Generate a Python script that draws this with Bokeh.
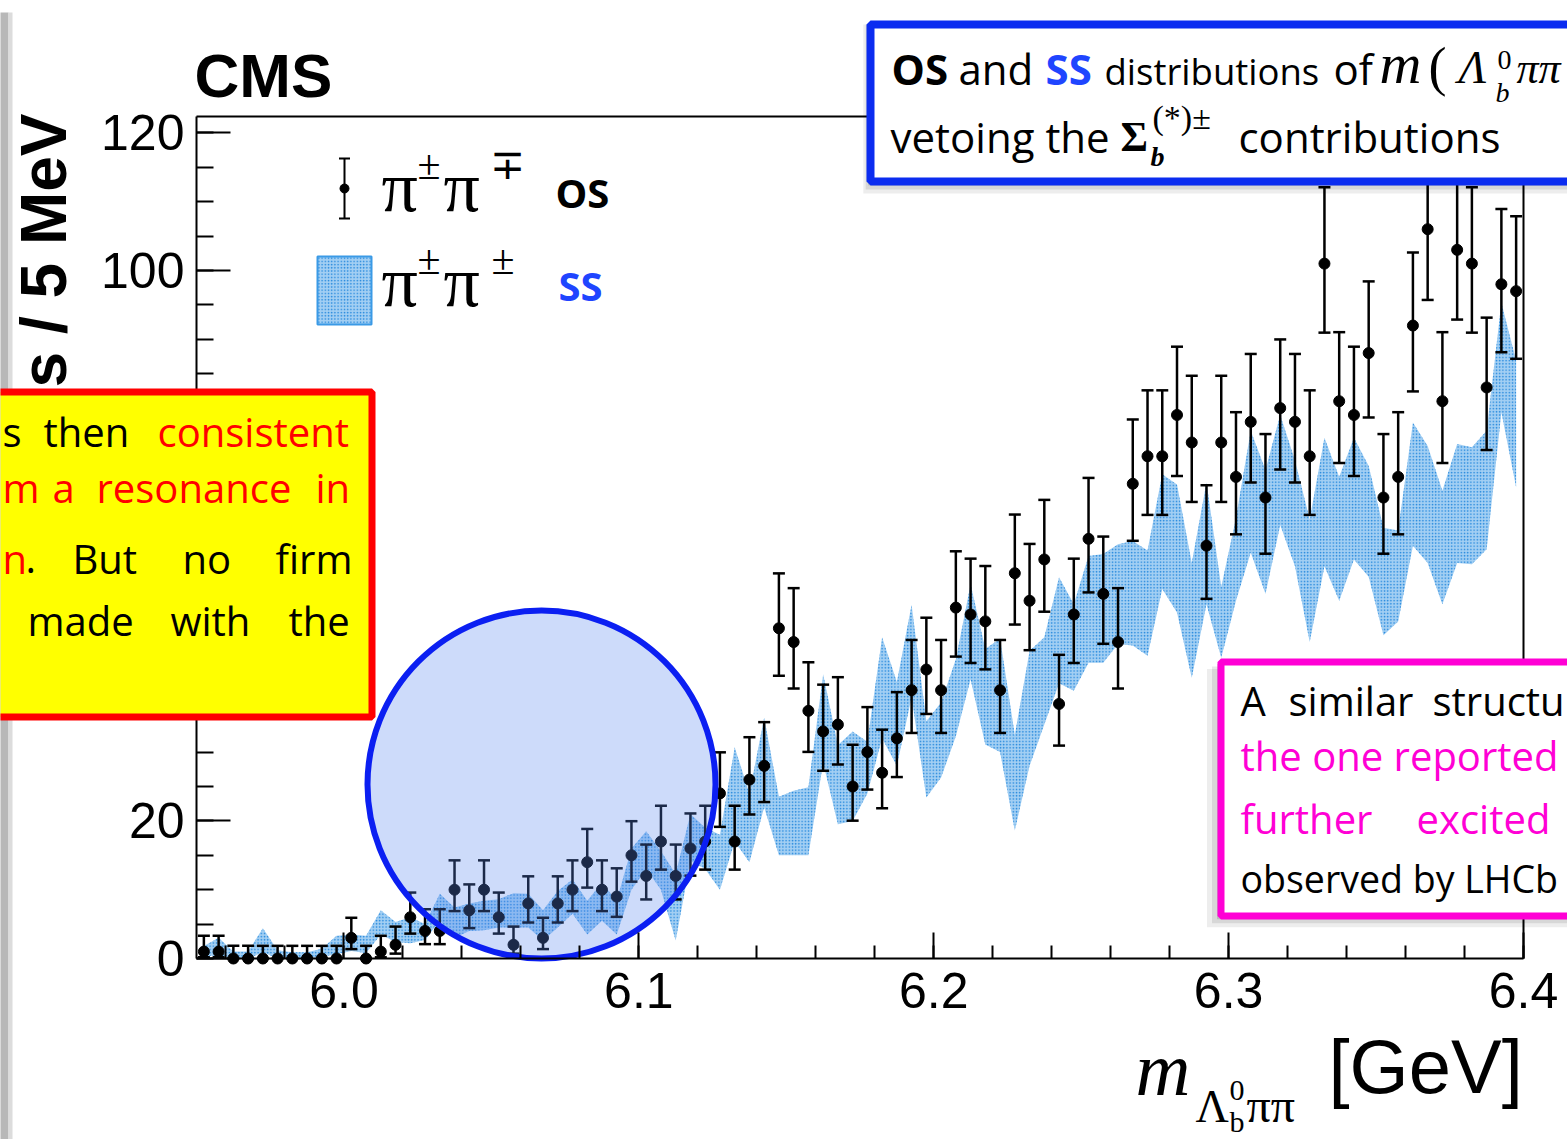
import math
import numpy as np
from bokeh.plotting import figure
from bokeh.models import (Label, BoxAnnotation, SingleIntervalTicker, PrintfTickFormatter,
                          Range1d, LinearAxis)
from bokeh.embed import file_html
from bokeh.resources import INLINE

# ---------------- data ----------------
bin_first_center = 5.9525   # GeV
bin_width = 0.005           # GeV (5 MeV bins)
n_bins = 90

# OS (pi+ pi-) candidates per 5 MeV
os_counts = [1, 1, 0, 0, 0, 0, 0, 0, 0, 0,
             3, 0, 1, 2, 6, 4, 4, 10, 7, 10,
             6, 2, 8, 3, 8, 10, 14, 10, 9, 15,
             12, 17, 12, 16, 17, 24, 17, 26, 28, 48,
             46, 36, 33, 34, 25, 30, 27, 32, 39, 42,
             39, 51, 50, 49, 39, 56, 52, 58, 37, 50,
             61, 53, 46, 69, 73, 73, 79, 75, 60, 75,
             70, 78, 67, 80, 78, 73, 101, 81, 79, 88,
             67, 70, 92, 106, 81, 103, 101, 83, 98, 97]

# SS (pi+- pi+-) normalised band: lower / upper edge per bin
ss_low = [0.3, 0.5, 0.0, 0.0, 0.9, 0.0, 0.0, 0.0, 0.3, 0.6,
          1.1, 0.8, 3.5, 2.4, 2.2, 2.7, 5.5, 3.0, 4.0, 4.1,
          4.5, 4.5, 4.5, 2.6, 4.5, 6.5, 3.5, 5.5, 3.5, 10.0,
          13.0, 10.0, 2.6, 14.2, 13.0, 10.0, 17.0, 14.0, 22.0, 15.0,
          15.0, 15.0, 28.5, 19.5, 20.0, 24.0, 32.0, 28.0, 38.0, 23.4,
          26.3, 32.3, 40.6, 31.1, 30.0, 18.6, 28.0, 34.0, 40.0, 38.9,
          43.0, 43.0, 45.7, 45.5, 44.0, 53.7, 50.3, 40.8, 51.5, 43.7,
          52.0, 59.0, 53.0, 63.0, 57.0, 46.0, 57.0, 52.0, 58.0, 55.5,
          47.0, 49.0, 60.0, 57.5, 51.5, 57.5, 57.3, 59.5, 79.4, 68.5]
ss_high = [1.8, 3.0, 1.0, 1.0, 4.4, 1.2, 0.9, 0.9, 1.4, 3.3,
           3.5, 3.3, 7.0, 5.3, 6.0, 5.0, 9.4, 7.4, 8.0, 8.4,
           8.6, 9.5, 9.4, 7.0, 9.8, 11.5, 8.4, 11.0, 8.4, 16.0,
           18.5, 15.6, 12.3, 21.0, 19.0, 18.0, 30.7, 24.0, 35.0, 23.5,
           24.4, 24.9, 41.3, 31.0, 33.0, 31.5, 46.7, 40.2, 51.4, 34.5,
           37.2, 43.5, 54.4, 45.0, 46.5, 32.5, 44.7, 46.7, 55.4, 51.5,
           58.5, 58.8, 60.2, 60.7, 59.3, 70.4, 68.9, 57.5, 69.2, 54.0,
           64.0, 76.7, 71.0, 79.0, 72.4, 63.8, 75.7, 70.0, 75.7, 71.6,
           62.6, 62.2, 77.9, 74.5, 68.0, 74.8, 74.3, 76.7, 95.3, 86.9]

x_tick_step = 0.1
y_tick_step = 20

mass = bin_first_center + bin_width * np.arange(n_bins)


# Poisson (Garwood) 68% intervals for the OS counts
def _cdf(k, mu):
    if k < 0:
        return 0.0
    s = 0.0
    for i in range(k + 1):
        s += math.exp(-mu + i * math.log(mu) - math.lgamma(i + 1))
    return s


def garwood(n):
    a = 0.3173
    lo_b, hi_b = max(n, 1e-9), n + 10 * math.sqrt(n + 1) + 10
    for _ in range(80):
        mid = 0.5 * (lo_b + hi_b)
        if _cdf(n, mid) > a / 2:
            lo_b = mid
        else:
            hi_b = mid
    up = lo_b
    if n == 0:
        return 0.0, up
    lo_b, hi_b = 1e-9, float(n)
    for _ in range(80):
        mid = 0.5 * (lo_b + hi_b)
        if _cdf(n - 1, mid) > 1 - a / 2:
            lo_b = mid
        else:
            hi_b = mid
    return lo_b, up


err = [garwood(n) for n in os_counts]
err_lo = [e[0] for e in err]
err_hi = [e[1] for e in err]

# ---------------- layout ----------------
W, H = 1567, 1139
FL, FR, FT, FB = 196, 1523, 116, 958      # pixel edges of the data frame
X0, X1 = 5.95, 6.40
Y0, Y1 = 0.0, (FB - FT) / 6.88


def DX(px):
    return X0 + (px - FL) * (X1 - X0) / (FR - FL)


def DY(py):
    return Y0 + (FB - py) * (Y1 - Y0) / (FB - FT)


p = figure(width=W, height=H, x_range=Range1d(DX(0), DX(W)), y_range=Range1d(DY(H), DY(0)),
           min_border=0, x_axis_location=None, y_axis_location=None, title=None,
           output_backend="svg", toolbar_location=None)
p.xgrid.visible = False
p.ygrid.visible = False
p.outline_line_color = None
p.background_fill_color = "white"
p.border_fill_color = "white"

xaxis = LinearAxis(fixed_location=Y0, bounds=(X0, X1),
                   ticker=SingleIntervalTicker(interval=x_tick_step, num_minor_ticks=5),
                   formatter=PrintfTickFormatter(format="%.1f"))
yaxis = LinearAxis(fixed_location=X0, bounds=(Y0, Y1),
                   ticker=SingleIntervalTicker(interval=y_tick_step, num_minor_ticks=4),
                   formatter=PrintfTickFormatter(format="%d"))
for ax in (xaxis, yaxis):
    ax.axis_line_width = 2
    ax.axis_line_color = "black"
    ax.major_tick_line_width = 2
    ax.minor_tick_line_width = 2
    ax.major_tick_out = 0
    ax.minor_tick_out = 0
    ax.major_label_text_font = "Liberation Sans"
    ax.major_label_text_font_size = "50px"
    ax.major_label_text_color = "black"
xaxis.major_tick_in = 26
xaxis.minor_tick_in = 13
xaxis.major_label_standoff = 14
yaxis.major_tick_in = 34
yaxis.minor_tick_in = 17
yaxis.major_label_standoff = 12
p.add_layout(xaxis, "below")
p.add_layout(yaxis, "left")

BAND_FILL = "#a3cff3"
BAND_DOT = "#2286dc"

# SS band
p.varea(x=mass, y1=ss_low, y2=ss_high, fill_color=BAND_FILL, fill_alpha=1.0,
        hatch_pattern="dot", hatch_color=BAND_DOT, hatch_scale=3.2, hatch_weight=2.4)

# frame top / right edges
p.segment(x0=[X0, X1], y0=[Y1, Y0], x1=[X1, X1], y1=[Y1, Y1], line_color="black", line_width=2)

# OS data points
p.segment(x0=mass, y0=err_lo, x1=mass, y1=err_hi, line_color="black", line_width=2.5)
p.scatter(x=mass, y=err_hi, marker="dash", size=12, line_color="black", line_width=2.5)
p.scatter(x=mass, y=err_lo, marker="dash", size=12, line_color="black", line_width=2.5)
p.scatter(x=mass, y=os_counts, marker="circle", size=11, fill_color="black", line_color="black")

# legend (OS sample marker)
p.segment(x0=[DX(344)], y0=[DY(218)], x1=[DX(344)], y1=[DY(158)], line_color="black", line_width=2)
p.scatter(x=[DX(344), DX(344)], y=[DY(218), DY(158)], marker="dash", size=11,
          line_color="black", line_width=2)
p.scatter(x=[DX(344)], y=[DY(188)], marker="circle", size=9, color="black")

# highlight circle
p.scatter(x=[DX(541)], y=[DY(784)], marker="circle", size=348, fill_color="#5a87ee",
          fill_alpha=0.3, line_color="#0b1ff2", line_width=6)

SHIFT = 0.37   # rendered baseline sits ~0.37 em below the anchor


def lab(px, py, text, size, color="black", font="Open Sans", style="normal",
        align="left", angle=0.0, raw=False):
    yy = py if raw else py - SHIFT * size
    p.add_layout(Label(x=DX(px), y=DY(yy), text=text, text_font=font,
                       text_font_size=f"{size}px", text_color=color,
                       text_font_style=style, text_align=align,
                       text_baseline="alphabetic", angle=angle))


def box(l, t, r, b, fill, line=None, lw=0, alpha=1.0, **kw):
    p.add_layout(BoxAnnotation(left=DX(l), right=DX(r), top=DY(t), bottom=DY(b),
                               fill_color=fill, fill_alpha=alpha,
                               line_color=line, line_width=lw,
                               line_alpha=1.0 if line else 0.0, **kw))


# legend SS sample box
box(317, 256, 371, 324, BAND_FILL, line="#3a9ae6", lw=2,
    hatch_pattern="dot", hatch_color=BAND_DOT, hatch_scale=3.2, hatch_weight=2.4)

# legend texts
SERIF = "Liberation Serif"
lab(381, 213, "π", 72, font=SERIF)
lab(417, 180, "±", 42, font=SERIF)
lab(443, 213, "π", 72, font=SERIF)
lab(489, 180, "∓", 42, font=SERIF)
lab(555, 207, "OS", 40, style="bold")
lab(381, 308, "π", 72, font=SERIF)
lab(417, 275, "±", 42, font=SERIF)
lab(443, 308, "π", 72, font=SERIF)
lab(491, 275, "±", 42, font=SERIF)
lab(558, 300, "SS", 40, color="#1f45ff", style="bold")

# CMS
lab(194, 98, "CMS", 62, font="Liberation Sans", style="bold")

# x-axis title
lab(1135, 1097, "m", 76, font=SERIF, style="italic")
lab(1195, 1123, "Λ", 46, font=SERIF)
lab(1229, 1101, "0", 30, font=SERIF)
lab(1229, 1132, "b", 30, font=SERIF)
lab(1246, 1123, "ππ", 48, font=SERIF)
lab(1328, 1094, "[GeV]", 76, font="Liberation Sans")

# y-axis title (rotated; anchor is the glyph centre line)
lab(43, 113, "Candidates / 5 MeV", 64, font="Liberation Sans", style="bold",
    align="right", angle=math.pi / 2, raw=True)

# slide edge shadow on the left
box(-10, 12, 8, 1160, "#b8b8b8")
box(8, 12, 12, 1160, "#dcdcdc")

# ---- yellow / red box ----
box(-20, 391.5, 371.5, 716.5, "#ffff00", line="#ff0000", lw=7)
RED = "#ff0000"
lab(2, 446, "s", 40)
lab(43, 446, "then", 40)
lab(157, 446, "consistent", 40, color=RED)
lab(2, 502, "m", 40, color=RED)
lab(52, 502, "a", 40, color=RED)
lab(96, 502, "resonance", 40, color=RED)
lab(315, 502, "in", 40, color=RED)
lab(2, 573, "n", 40, color=RED)
lab(25, 573, ".", 40)
lab(72, 573, "But", 40)
lab(182, 573, "no", 40)
lab(275, 573, "firm", 40)
lab(27, 635, "made", 40)
lab(170, 635, "with", 40)
lab(288, 635, "the", 40)

# ---- blue box (top right) ----
for off, a in ((12, 0.07), (8, 0.09), (4, 0.12)):
    box(870 - off * 0.6, 24, 1620, 181 + off, "#000000", alpha=a)
box(870, 24, 1620, 181, "white", line="#0b2cf0", lw=8)
lab(891, 84, "OS", 42, style="bold")
lab(958, 84, "and", 42)
lab(1045, 84, "SS", 42, color="#1f45ff", style="bold")
lab(1104, 84, "distributions", 36.5)
lab(1333, 84, "of", 42)
lab(1379, 84, "m", 58, font=SERIF, style="italic")
lab(1428, 86, "(", 54, font=SERIF)
lab(1458, 84, "Λ", 46, font=SERIF, style="italic")
lab(1497, 70, "0", 28, font=SERIF)
lab(1495, 102, "b", 28, font=SERIF, style="italic")
lab(1516, 84, "ππ", 44, font=SERIF, style="italic")
lab(890, 152, "vetoing the", 42)
lab(1120, 152, "Σ", 42, font=SERIF, style="bold")
lab(1150, 166, "b", 28, font=SERIF, style="bold italic")
lab(1152, 130, "(*)±", 34, font=SERIF)
lab(1238, 152, "contributions", 42)

# ---- magenta box (bottom right) ----
for off, a in ((14, 0.07), (9, 0.09), (4, 0.12)):
    box(1220.5 - off, 661.5 + off * 0.5, 1620, 915.5 + off * 0.8, "#000000", alpha=a)
box(1220.5, 661.5, 1620, 915.5, "white", line="#ff00d5", lw=7)
MAG = "#ff00d5"
lab(1240, 715, "A", 40)
lab(1288, 715, "similar", 40)
lab(1432, 715, "structu", 40)
lab(1240, 770, "the one reported", 40, color=MAG)
lab(1240, 833, "further", 40, color=MAG)
lab(1416, 833, "excited", 40, color=MAG)
lab(1240, 892, "observed by LHCb", 37.5)

open("out.html", "w").write(file_html(p, INLINE))
